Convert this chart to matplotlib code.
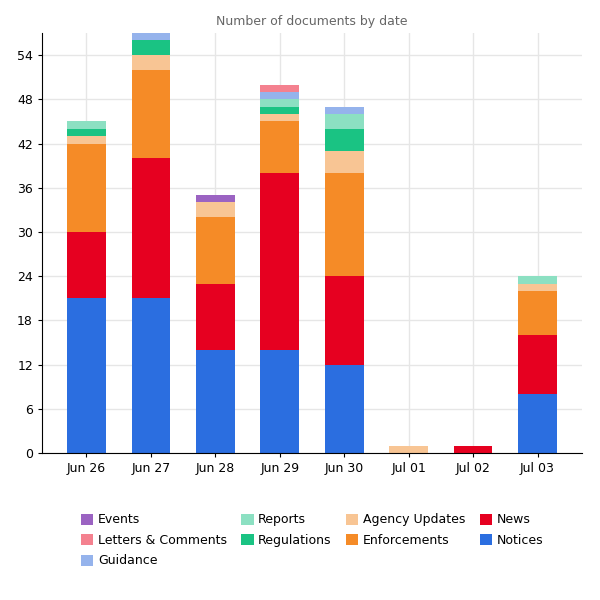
import matplotlib.pyplot as plt
import numpy as np

dates = ['Jun 26', 'Jun 27', 'Jun 28', 'Jun 29', 'Jun 30', 'Jul 01', 'Jul 02', 'Jul 03']

# stacked bottom -> top
notices = [21, 21, 14, 14, 12, 0, 0, 8]
news = [9, 19, 9, 24, 12, 0, 1, 8]
enforcements = [12, 12, 9, 7, 14, 0, 0, 6]
agency_updates = [1, 2, 2, 1, 3, 1, 0, 1]
regulations = [1, 2, 0, 1, 3, 0, 0, 0]
reports = [1, 0, 0, 1, 2, 0, 0, 1]
guidance = [0, 1, 0, 1, 1, 0, 0, 0]
letters = [0, 0, 0, 1, 0, 0, 0, 0]
events = [0, 0, 1, 0, 0, 0, 0, 0]

series = [
    ('Notices', notices, '#2b6ee0'),
    ('News', news, '#e60020'),
    ('Enforcements', enforcements, '#f58b27'),
    ('Agency Updates', agency_updates, '#f8c594'),
    ('Regulations', regulations, '#1ac383'),
    ('Reports', reports, '#8ce0c2'),
    ('Guidance', guidance, '#95b3ec'),
    ('Letters & Comments', letters, '#f4818f'),
    ('Events', events, '#9b63c2'),
]

plt.rcParams['font.family'] = 'DejaVu Sans'

fig = plt.figure(figsize=(6, 6), dpi=100)
ax = fig.add_axes([0.07, 0.245, 0.9, 0.7])

x = np.arange(len(dates))
bottom = np.zeros(len(dates))
handles = {}
for name, vals, color in series:
    vals = np.array(vals, dtype=float)
    h = ax.bar(x, vals, 0.6, bottom=bottom, color=color, label=name, zorder=2)
    handles[name] = h
    bottom += vals

ax.set_xlim(-0.69, 7.69)
ax.set_ylim(0, 57)
ax.set_yticks(np.arange(0, 55, 6))
ax.set_xticks(x)
ax.set_xticklabels(dates)
ax.tick_params(labelsize=9, length=3, color='black')
ax.grid(True, color='#e6e6e6', linewidth=1, zorder=0)
ax.set_axisbelow(True)
for s in ['top', 'right']:
    ax.spines[s].set_visible(False)

ax.set_title('Number of documents by date', fontsize=9, color='#666666', pad=6)

order = ['Events', 'Letters & Comments', 'Guidance', 'Reports', 'Regulations',
         'Agency Updates', 'Enforcements', 'News', 'Notices']
fig.legend([handles[n] for n in order], order, loc='upper center',
           bbox_to_anchor=(0.52, 0.163), ncol=4, frameon=False, fontsize=9,
           handlelength=1.0, handleheight=1.0, handletextpad=0.35,
           columnspacing=1.15, labelspacing=0.6)

fig.savefig('out.png', dpi=100)
